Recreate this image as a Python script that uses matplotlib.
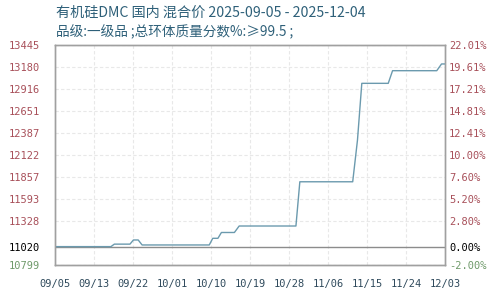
import matplotlib as mpl

mpl.use("Agg")

import matplotlib.pyplot as plt

# price breakpoints (day offset from 2025-09-05, yuan/t)
days = [0, 12.9, 13.7, 17.3, 18.1, 19.2, 20.1, 35.6, 36.4, 37.6, 38.4, 41.4, 42.5,
        55.6, 56.5, 68.7, 69.8, 70.8, 76.9, 77.9, 88.1, 89.2, 90]
prices = [11020, 11020, 11050, 11050, 11100, 11100, 11040, 11040, 11120, 11120, 11190, 11190, 11268,
          11268, 11800, 11800, 12300, 12984, 12984, 13136, 13136, 13217, 13217]

base_price = 11020
y_ticks = [10799, 11020, 11328, 11593, 11857, 12122, 12387, 12651, 12916, 13180, 13445]
pct_labels = ["-2.00%", "0.00%", "2.80%", "5.20%", "7.60%", "10.00%", "12.41%",
              "14.81%", "17.21%", "19.61%", "22.01%"]
x_ticks = [0, 9, 18, 27, 36, 45, 54, 63, 72, 81, 90]
x_labels = ["09/05", "09/13", "09/22", "10/01", "10/10", "10/19", "10/28",
            "11/06", "11/15", "11/24", "12/03"]

title = "有机硅DMC 国内 混合价 2025-09-05 - 2025-12-04"
subtitle = "品级:一级品 ;总环体质量分数%:≥99.5 ;"

cjk = ["Noto Sans CJK SC", "DejaVu Sans"]
mono = "DejaVu Sans Mono"
up_color = "#a8505a"
down_color = "#6f9a6a"
frame_color = "#a0a0a0"


def label_color(value: float) -> str:
    if value > base_price:
        return up_color
    if value < base_price:
        return down_color
    return "#000000"


fig = plt.figure(figsize=(4.98, 2.96), dpi=100)
ax = fig.add_axes([55 / 498, 31 / 296, 390 / 498, 220 / 296])

for tick in y_ticks:
    if tick != base_price:
        ax.axhline(tick, color="#e8e8e8", linewidth=0.8, linestyle=(0, (3, 2)), zorder=1)
for tick in x_ticks[1:-1]:
    ax.axvline(tick, color="#e8e8e8", linewidth=0.8, linestyle=(0, (3, 2)), zorder=1)

ax.axhline(base_price, color="#8c8c8c", linewidth=1.0, zorder=2)
ax.plot(days, prices, color="#6b9aae", linewidth=1.0, zorder=3)

ax.set_xlim(0, 90)
ax.set_ylim(y_ticks[0], y_ticks[-1])
ax.set_xticks(x_ticks)
ax.set_xticklabels(x_labels, family=mono, fontsize=7.5, color="#2f4a5c")
ax.set_yticks(y_ticks)
ax.set_yticklabels([str(t) for t in y_ticks], family=mono, fontsize=7.5)
for lab, tick in zip(ax.get_yticklabels(), y_ticks):
    lab.set_color(label_color(tick))
ax.tick_params(length=0, pad=11)
ax.tick_params(axis="x", pad=10)

right = ax.twinx()
right.set_ylim(ax.get_ylim())
right.set_yticks(y_ticks)
right.set_yticklabels(pct_labels, family=mono, fontsize=7.5)
for lab, tick in zip(right.get_yticklabels(), y_ticks):
    lab.set_color(label_color(tick))
right.tick_params(length=0, pad=3)

for axis in (ax, right):
    for spine in axis.spines.values():
        spine.set_color(frame_color)
        spine.set_linewidth(1.0)

fig.text(56 / 498, 1 - 13 / 296, title, family=cjk, fontsize=10.2, color="#2e6079", va="center")
fig.text(56 / 498, 1 - 32 / 296, subtitle, family=cjk, fontsize=9.8, color="#2e6079", va="center")

fig.savefig("out.png", dpi=100)
